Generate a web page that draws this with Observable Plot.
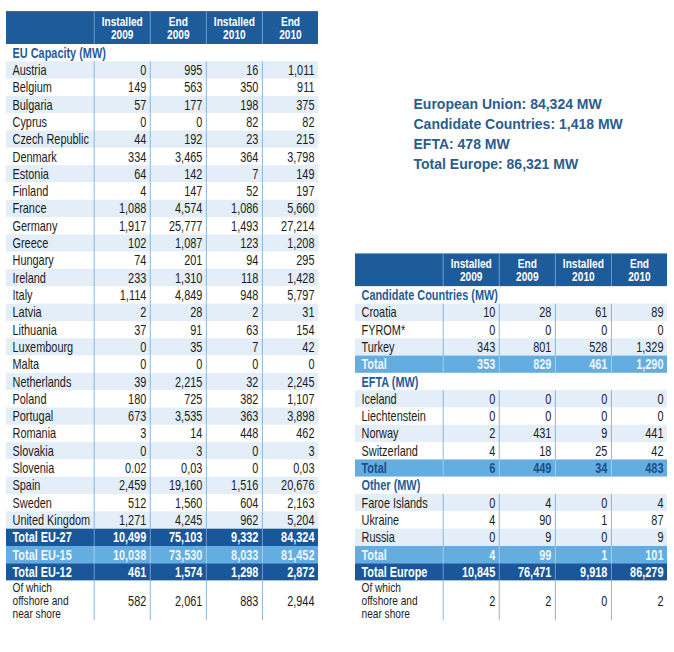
<!DOCTYPE html>
<html><head><meta charset="utf-8">
<script src="https://cdn.jsdelivr.net/npm/d3@7"></script>
<script src="https://cdn.jsdelivr.net/npm/@observablehq/plot@0.6"></script>
<style>body{margin:0;background:#fff} #chart{width:674px;height:652px}</style>
</head><body><div id="chart"></div><script>
// ---------- DATA ----------
const columnHeaders = ["Installed\n2009", "End\n2009", "Installed\n2010", "End\n2010"];

const euCountries = ["Austria","Belgium","Bulgaria","Cyprus","Czech Republic","Denmark","Estonia","Finland","France","Germany","Greece","Hungary","Ireland","Italy","Latvia","Lithuania","Luxembourg","Malta","Netherlands","Poland","Portugal","Romania","Slovakia","Slovenia","Spain","Sweden","United Kingdom"];
const euInst2009 = [0,149,57,0,44,334,64,4,1088,1917,102,74,233,1114,2,37,0,0,39,180,673,3,0,"0.02",2459,512,1271];
const euEnd2009  = [995,563,177,0,192,3465,142,147,4574,25777,1087,201,1310,4849,28,91,35,0,2215,725,3535,14,3,"0,03",19160,1560,4245];
const euInst2010 = [16,350,198,82,23,364,7,52,1086,1493,123,94,118,948,2,63,7,0,32,382,363,448,0,0,1516,604,962];
const euEnd2010  = [1011,911,375,82,215,3798,149,197,5660,27214,1208,295,1428,5797,31,154,42,0,2245,1107,3898,462,3,"0,03",20676,2163,5204];
const totalEU27 = [10499,75103,9332,84324];
const totalEU15 = [10038,73530,8033,81452];
const totalEU12 = [461,1574,1298,2872];
const euOffshore = [582,2061,883,2944];

const candCountries = ["Croatia","FYROM*","Turkey"];
const candInst2009 = [10,0,343];
const candEnd2009  = [28,0,801];
const candInst2010 = [61,0,528];
const candEnd2010  = [89,0,1329];
const candTotal = [353,829,461,1290];

const eftaCountries = ["Iceland","Liechtenstein","Norway","Switzerland"];
const eftaInst2009 = [0,0,2,4];
const eftaEnd2009  = [0,0,431,18];
const eftaInst2010 = [0,0,9,25];
const eftaEnd2010  = [0,0,441,42];
const eftaTotal = [6,449,34,483];

const otherCountries = ["Faroe Islands","Ukraine","Russia"];
const otherInst2009 = [0,4,0];
const otherEnd2009  = [4,90,9];
const otherInst2010 = [0,1,0];
const otherEnd2010  = [4,87,9];
const otherTotal = [4,99,1,101];

const totalEurope = [10845,76471,9918,86279];
const europeOffshore = [2,2,0,2];

const summaryLines = ["European Union: 84,324 MW","Candidate Countries: 1,418 MW","EFTA: 478 MW","Total Europe: 86,321 MW"];

// ---------- LAYOUT (row units / column units) ----------
const headerRows = 1.9, offshoreRows = 2.3, labelCols = 1.564;
const rowPx = 17.31, firstRowTop = 44;
const condense = 0.78;
const C = {
  header: "#1d5b9a", dark: "#19579a", light: "#63ade1", stripe: "#e3eef8",
  section: "#1f5c99", text: "#1c1c1c", sepData: "#8db5d9", sepDark: "#6f9ccc", sepLight: "#a4cdec"
};

const rows = [];
function addTable(table, start, blocks) {
  let r = start;
  rows.push({table, kind: "header", y1: r - headerRows, y2: r});
  for (const b of blocks) {
    if (b.type === "section") {
      rows.push({table, kind: "section", label: b.title, y1: r, y2: r + 1}); r++;
      b.names.forEach((n, i) => {
        rows.push({table, kind: i % 2 ? "plain" : "stripe", label: n, vals: b.values.map(a => a[i]), y1: r, y2: r + 1}); r++;
      });
    } else if (b.type === "total") {
      rows.push({table, kind: b.style, label: b.label, vals: b.vals, y1: r, y2: r + 1}); r++;
    } else {
      rows.push({table, kind: "offshore", label: "Of which\noffshore and\nnear shore", vals: b.vals, y1: r, y2: r + offshoreRows}); r += offshoreRows;
    }
  }
  return r;
}
const euBlocks = [
  {type: "section", title: "EU Capacity (MW)", names: euCountries, values: [euInst2009, euEnd2009, euInst2010, euEnd2010]},
  {type: "total", style: "dark", label: "Total EU-27", vals: totalEU27},
  {type: "total", style: "light", label: "Total EU-15", vals: totalEU15},
  {type: "total", style: "dark", label: "Total EU-12", vals: totalEU12},
  {type: "offshore", vals: euOffshore}
];
const otherBlocks = [
  {type: "section", title: "Candidate Countries (MW)", names: candCountries, values: [candInst2009, candEnd2009, candInst2010, candEnd2010]},
  {type: "total", style: "light", label: "Total", vals: candTotal},
  {type: "section", title: "EFTA (MW)", names: eftaCountries, values: [eftaInst2009, eftaEnd2009, eftaInst2010, eftaEnd2010]},
  {type: "total", style: "lightDark", label: "Total", vals: eftaTotal},
  {type: "section", title: "Other (MW)", names: otherCountries, values: [otherInst2009, otherEnd2009, otherInst2010, otherEnd2010]},
  {type: "total", style: "light", label: "Total", vals: otherTotal},
  {type: "total", style: "dark", label: "Total Europe", vals: totalEurope},
  {type: "offshore", vals: europeOffshore}
];
const euRowsCount = 1 + euCountries.length + 3;
const otherRowsCount = 3 + candCountries.length + eftaCountries.length + otherCountries.length + 4;
addTable("EU", 0, euBlocks);
addTable("Other", euRowsCount - otherRowsCount, otherBlocks);

const fillOf = k => ({header: C.header, dark: C.dark, light: C.light, lightDark: C.light, stripe: C.stripe}[k] || "white");
const textOf = k => ({dark: "white", light: "#eef6fc", lightDark: "#1b4d84", section: C.section}[k] || C.text);
const boldOf = k => ["dark", "light", "lightDark", "section"].includes(k);
const sepOf = k => ({header: C.sepDark, dark: C.sepDark, light: C.sepLight, lightDark: C.sepLight}[k] || C.sepData);

const fmt = d3.format(",");
const cells = rows.filter(r => r.vals).flatMap(r => r.vals.map((v, c) => ({
  table: r.table, kind: r.kind, x: c + 1, y: (r.y1 + r.y2) / 2, text: typeof v === "number" ? fmt(v) : v
})));
const labels = rows.filter(r => r.label).map(r => ({...r, y: (r.y1 + r.y2) / 2}));
const seps = rows.filter(r => r.kind !== "section").flatMap(r => [0, 1, 2, 3].map(x => ({table: r.table, kind: r.kind, x, y1: r.y1, y2: r.y2})));
const headers = rows.filter(r => r.kind === "header").flatMap(r => columnHeaders.map((h, c) => ({table: r.table, x: c + 0.5, y: (r.y1 + r.y2) / 2, text: h})));

const H = 652, W = 674;
const font = "'Liberation Sans',Arial,sans-serif";
const isBold = d => boldOf(d.kind);
const isPlain = d => !boldOf(d.kind) && d.kind !== "offshore";
const isOffshore = d => d.kind === "offshore";
const chart = Plot.plot({
  width: W, height: H,
  marginTop: 0, marginBottom: 0, marginLeft: 5, marginRight: 6,
  facet: {marginTop: 0, marginBottom: 0, marginLeft: 0, marginRight: 0},
  style: {fontFamily: font, fontSize: "14px", background: "white"},
  fx: {domain: ["EU", "Other"], paddingInner: 0.1057, paddingOuter: 0, axis: null},
  x: {domain: [-labelCols, 4], axis: null},
  y: {domain: [-firstRowTop / rowPx, (H - firstRowTop) / rowPx], range: [0, H], axis: null},
  color: {type: "identity"},
  marks: [
    Plot.rect(rows, {fx: "table", x1: -labelCols, x2: 4, y1: "y1", y2: "y2", fill: d => fillOf(d.kind)}),
    Plot.ruleX(seps, {fx: "table", x: "x", y1: "y1", y2: "y2", stroke: d => sepOf(d.kind), strokeWidth: 1}),
    Plot.text(headers, {fx: "table", x: "x", y: "y", text: "text", fill: "white", fontWeight: "bold", fontSize: 13, lineHeight: 1.0}),
    Plot.text(labels, {fx: "table", x: -labelCols, y: "y", text: "label", textAnchor: "start", dx: 6, filter: isPlain,
      fill: d => textOf(d.kind)}),
    Plot.text(labels, {fx: "table", x: -labelCols, y: "y", text: "label", textAnchor: "start", dx: 6, filter: isOffshore,
      fill: d => textOf(d.kind), fontSize: 13, lineHeight: 1.0}),
    Plot.text(labels, {fx: "table", x: -labelCols, y: "y", text: "label", textAnchor: "start", dx: 6, filter: isBold,
      fill: d => textOf(d.kind), fontWeight: "bold"}),
    Plot.text(cells, {fx: "table", x: "x", y: "y", text: "text", textAnchor: "end", dx: -4, filter: d => !boldOf(d.kind),
      fill: d => textOf(d.kind)}),
    Plot.text(cells, {fx: "table", x: "x", y: "y", text: "text", textAnchor: "end", dx: -4, filter: isBold,
      fill: d => textOf(d.kind), fontWeight: "bold"}),
    Plot.text([{table: "Other", text: summaryLines.join("\n")}], {fx: "table", text: "text", frameAnchor: "top-left",
      textAnchor: "start", lineAnchor: "top", dx: 58, dy: 94, lineHeight: 1.43, fontSize: 14, fontWeight: "bold",
      fill: "#2a5d8e"})
  ]
});
// emulate the condensed typeface of the original: squeeze table texts horizontally around their anchor
chart.querySelectorAll("text").forEach(t => {
  if (summaryLines.some(s => t.textContent.includes(s))) return;
  const tr = t.getAttribute("transform");
  if (tr) t.setAttribute("transform", `${tr} scale(${condense},1)`);
});
document.getElementById("chart").append(chart);
</script></body></html>
